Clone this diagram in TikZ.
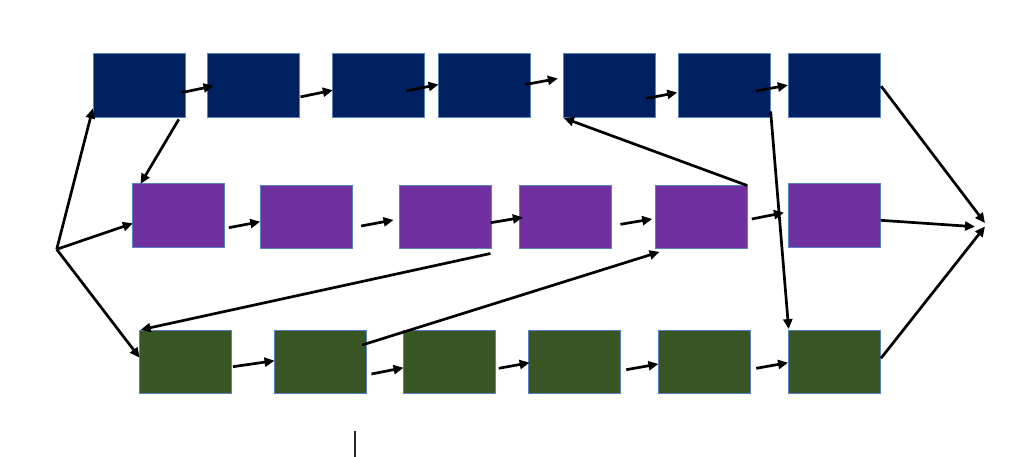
\documentclass[tikz,border=0pt]{standalone}
\usetikzlibrary{arrows.meta}
\definecolor{navy}{HTML}{002060}
\definecolor{purp}{HTML}{7030A0}
\definecolor{grn}{HTML}{375623}
\definecolor{edge}{HTML}{5B82C0}
\begin{document}
\begin{tikzpicture}[x=1pt,y=-1pt,
  box/.style={draw=edge,line width=0.9pt,inner sep=0pt,minimum width=92pt,minimum height=63.5pt},
  tbox/.style={box,fill=navy},
  mbox/.style={box,fill=purp},
  bbox/.style={box,fill=grn},
  arr/.style={line width=2.7pt,-{Triangle[length=10pt,width=9pt]}},
  ]
\useasboundingbox (0,0) rectangle (1024,457);
% top row
\node[tbox] (T1) at (139,85.7) {};
\node[tbox] (T2) at (253.5,85.7) {};
\node[tbox] (T3) at (378.8,85.7) {};
\node[tbox] (T4) at (484.5,85.7) {};
\node[tbox] (T5) at (609.5,85.7) {};
\node[tbox] (T6) at (724.2,85.7) {};
\node[tbox] (T7) at (834.3,85.7) {};
% middle row
\node[mbox] (M1) at (178.3,215.3) {};
\node[mbox] (M2) at (306.3,217) {};
\node[mbox] (M3) at (445.2,217) {};
\node[mbox] (M4) at (565.8,217) {};
\node[mbox] (M5) at (701.5,217) {};
\node[mbox] (M6) at (834.2,215.5) {};
% bottom row
\node[bbox] (B1) at (185.8,362) {};
\node[bbox] (B2) at (320,362) {};
\node[bbox] (B3) at (449.7,362) {};
\node[bbox] (B4) at (574.8,362) {};
\node[bbox] (B5) at (704.5,362) {};
\node[bbox] (B6) at (834.5,362) {};
% free points
\coordinate (L) at (56.7,249.3);
\coordinate (R) at (986,225);
\coordinate (V1) at (355,431);
\coordinate (V2) at (355,457);
% from L
\draw[arr] (L) -- ([shift={(0.3,-9.5)}]T1.south west);
\draw[arr] (L) -- ([shift={(1,8)}]M1.west);
\draw[arr] (L) -- ([shift={(0.3,-4.3)}]B1.west);
% top chain
\draw[arr] ([shift={(-3.3,6.8)}]T1.east) -- ([shift={(6.5,0.2)}]T2.west);
\draw[arr] ([shift={(0.5,11.2)}]T2.east) -- ([shift={(0.5,4.5)}]T3.west);
\draw[arr] ([shift={(-18.8,5.2)}]T3.east) -- ([shift={(0.5,-1.2)}]T4.west);
\draw[arr] ([shift={(-5.5,-1.2)}]T4.east) -- ([shift={(-5.2,-7.2)}]T5.west);
\draw[arr] ([shift={(-9.8,12.8)}]T5.east) -- ([shift={(-0.5,6.8)}]T6.west);
\draw[arr] ([shift={(-14.5,5.2)}]T6.east) -- ([shift={(0,-0.5)}]T7.west);
% middle chain
\draw[arr] ([shift={(4,12.4)}]M1.east) -- ([shift={(0.4,4.7)}]M2.west);
\draw[arr] ([shift={(8.4,9)}]M2.east) -- ([shift={(-5.2,3)}]M3.west);
\draw[arr] ([shift={(-0.9,5.7)}]M3.east) -- ([shift={(3.5,0.3)}]M4.west);
\draw[arr] ([shift={(8.2,7.3)}]M4.east) -- ([shift={(-2.8,2)}]M5.west);
\draw[arr] ([shift={(3.8,2)}]M5.east) -- ([shift={(-3.8,-2.8)}]M6.west);
% bottom chain
\draw[arr] ([shift={(0.7,4.7)}]B1.east) -- ([shift={(1,-1.3)}]B2.west);
\draw[arr] ([shift={(5,12)}]B2.east) -- ([shift={(0.3,5.7)}]B3.west);
\draw[arr] ([shift={(2.6,6.3)}]B3.east) -- ([shift={(1.3,0.7)}]B4.west);
\draw[arr] ([shift={(5,7.7)}]B4.east) -- ([shift={(0.4,2)}]B5.west);
\draw[arr] ([shift={(5.3,6.3)}]B5.east) -- ([shift={(0,0.7)}]B6.west);
% cross links
\draw[arr] ([shift={(-6.7,1.5)}]T1.south east) -- ([shift={(8.7,0.7)}]M1.north west);
\draw[arr] ([shift={(-0.8,0.7)}]M5.north east) -- ([shift={(0.8,0.2)}]T5.south west);
\draw[arr] ([shift={(0,-6.5)}]T6.south east) -- ([shift={(0.6,-0.7)}]B6.north west);
\draw[arr] ([shift={(-1.2,4.3)}]M3.south east) -- ([shift={(1.3,0)}]B1.north west);
\draw[arr] ([shift={(-4.3,-17)}]B2.east) -- ([shift={(4.5,2.7)}]M5.south west);
% to R
\draw[arr] ([shift={(0.4,0.5)}]T7.east) -- ([shift={(-1,-2)}]R);
\draw[arr] ([shift={(0,4.8)}]M6.east) -- ([shift={(-11,1.7)}]R);
\draw[arr] ([shift={(0,-3.7)}]B6.east) -- ([shift={(-1,1.5)}]R);
% small vertical mark
\draw[line width=1.2pt,black!85] (V1) -- (V2);
\end{tikzpicture}
\end{document}
